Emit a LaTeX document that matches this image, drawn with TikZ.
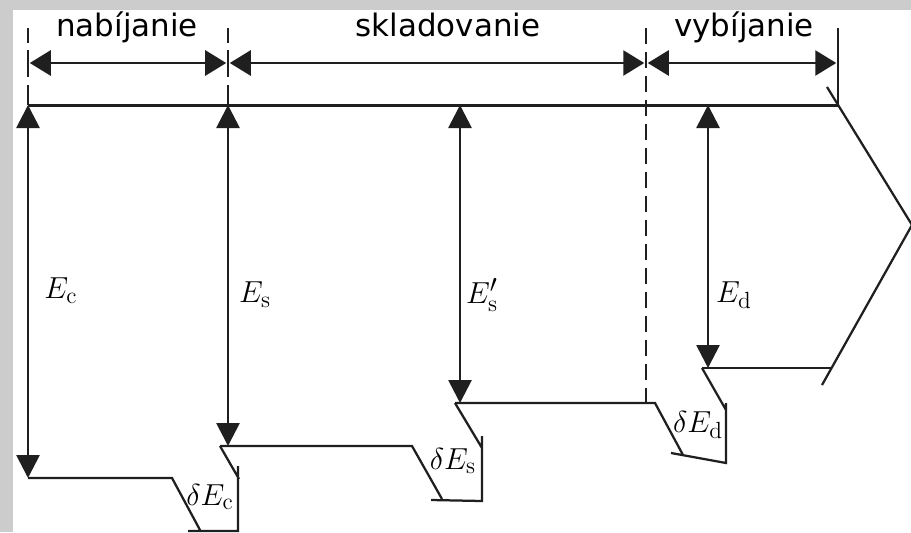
\documentclass[tikz,border=0pt]{standalone}
\usepackage{fontspec}
\usepackage{tikz}
\usetikzlibrary{arrows.meta,calc,positioning}
\newfontfamily\phasefont{DejaVu Sans}
\tikzset{%
	energy/.style   = {line width=0.55mm, draw=black!88, {Triangle[length=4.6mm,width=4.6mm]}-{Triangle[length=4.6mm,width=4.6mm]}}, % E arrows
	span/.style     = {line width=0.55mm, draw=black!88, shorten <=1pt, shorten >=1pt, {Triangle[length=4.2mm,width=5mm]}-{Triangle[length=4.2mm,width=5mm]}}, % phases
	level/.style    = {line width=0.45mm, draw=black!88},
	guide/.style    = {line width=0.4mm, draw=black!88},
	phase/.style    = {font=\phasefont\fontsize{17.6}{20}\selectfont, anchor=base, inner sep=0pt},
	quantity/.style = {font=\fontsize{19}{22}\selectfont, inner sep=0pt},
}

\begin{document}
\begin{tikzpicture}[x=0.2mm,y=-0.2mm]
		\useasboundingbox (0,0) rectangle (911,532);
		\fill[gray!40] (0,0) rectangle (911,532);
		\fill[white] (13,10) rectangle (911,532);
		
		% top and levels
		\coordinate (cTop) at (28,105);
		\coordinate (sTop) at (228,105);
		\coordinate (spTop) at (460,105);
		\coordinate (dTop) at (708,105);
		\coordinate (eTop) at (838,105);
		\coordinate (cBot) at (28,478);
		\coordinate (sBot) at (228,446);
		\coordinate (spBot) at (460,403);
		\coordinate (dBot) at (708,368);
		
		% phase marks
		\coordinate (m0) at (28,63);
		\coordinate (m1) at (228,63);
		\coordinate (m2) at (646,63);
		\coordinate (m3) at (838,63);
		
		\draw[guide] (28,28) -- (28,43) (28,50) -- (28,77) (28,85) -- (cTop);
		\draw[guide] (228,28) -- (228,43) (228,50) -- (228,77) (228,85) -- (sTop);
		\draw[guide, dash pattern=on 3.2mm off 1.6mm] (646,28) -- (646,403);
		\draw[guide] (838,28) -- (eTop);
		
		\node[phase] (nab) at (127,37) {nabíjanie};
		\node[phase] (skl) at (448,37) {skladovanie};
		\node[phase] (vyb) at (744,37) {vybíjanie};
		\draw[span] (m0) -- (m1);
		\draw[span] (m1) -- (m2);
		\draw[span] (m2) -- (m3);
		
		\draw[line width=0.6mm, draw=black!88] (cTop) -- (eTop);
		\draw[level] (827,87) -- (912,225) -- (822,385);
		
		% steps
		\draw[level] (cBot) -- (172,478) -- (200,530) (188,531) -- (238,531) -- (238,466) (220,446) -- (239,479);
		\draw[level] (220,446) -- (412,446) -- (442,499) (431,500) -- (482,501) -- (482,436) (455,403) -- (482,448);
		\draw[level] (455,403) -- (655,403) -- (683,455) (671,453) -- (726,463) -- (726,403) (702,368) -- (726,410);
		\draw[level] (702,368) -- (832,368);
		
		\draw[energy] (cTop) -- (cBot);
		\draw[energy] (sTop) -- (sBot);
		\draw[energy] (spTop) -- (spBot);
		\draw[energy] (dTop) -- (dBot);
		
		\node[quantity] (Ec) at (61,291) {$E_{\mathrm{c}}$};
		\node[quantity] (Es) at (255,295) {$E_{\mathrm{s}}$};
		\node[quantity] (Esp) at (482,295) {$E'_{\mathrm{s}}$};
		\node[quantity] (Ed) at (734,295) {$E_{\mathrm{d}}$};
		\node[quantity] (dEc) at (210,497) {$\delta E_{\mathrm{c}}$};
		\node[quantity] (dEs) at (453,461) {$\delta E_{\mathrm{s}}$};
		\node[quantity] (dEd) at (698,425) {$\delta E_{\mathrm{d}}$};
		\end{tikzpicture}
\end{document}
